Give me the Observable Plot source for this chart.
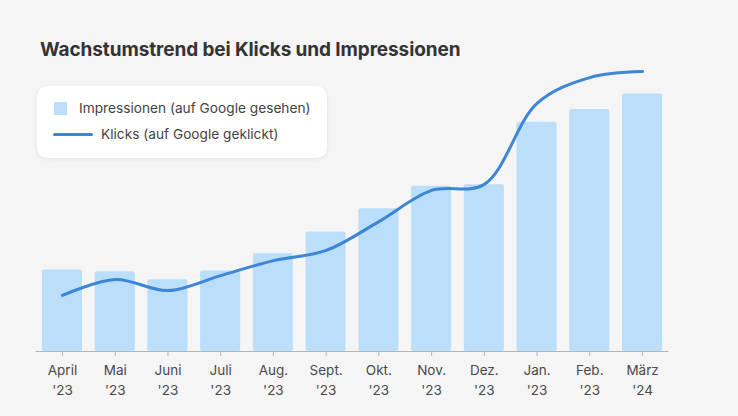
<!DOCTYPE html>
<html>
<head>
<meta charset="utf-8">
<script src="https://cdn.jsdelivr.net/npm/d3@7"></script>
<script src="https://cdn.jsdelivr.net/npm/@observablehq/plot@0.6"></script>
<style>
  html, body { margin: 0; padding: 0; background: #f5f5f5; }
  #wrap { position: relative; width: 738px; height: 416px; background: #f5f5f5; font-family: Inter, "Noto Sans", sans-serif; overflow: hidden; }
  #chart { position: absolute; left: 0; top: 0; }
  #title { position: absolute; left: 40px; top: 38px; font-size: 19px; font-weight: 700; color: #333; letter-spacing: -0.1px; white-space: nowrap; }
  #legend { position: absolute; left: 37px; top: 86px; width: 290px; height: 72px; background: #fff; border-radius: 10px; box-shadow: 0 1px 4px rgba(0,0,0,0.08); box-sizing: border-box; }
  .item { position: absolute; left: 16px; display: flex; align-items: center; font-size: 13.7px; color: #444; white-space: nowrap; }
  .sq { width: 13px; height: 13px; background: #bbdefa; margin-right: 12px; margin-left: 1px; }
  .ln { width: 40px; height: 3px; border-radius: 2px; background: #3d85d6; margin-right: 8px; }
</style>
</head>
<body>
<div id="wrap">
  <div id="chart"></div>
  <div id="title">Wachstumstrend bei Klicks und Impressionen</div>
  <div id="legend">
    <div class="item" style="top:14px"><div class="sq"></div><span>Impressionen (auf Google gesehen)</span></div>
    <div class="item" style="top:40px"><div class="ln"></div><span>Klicks (auf Google geklickt)</span></div>
  </div>
</div>
<script>
const months = ["April", "Mai", "Juni", "Juli", "Aug.", "Sept.", "Okt.", "Nov.", "Dez.", "Jan.", "Feb.", "März"];
const years = ["'23", "'23", "'23", "'23", "'23", "'23", "'23", "'23", "'23", "'23", "'23", "'24"];
const impressions = [27.2, 26.6, 23.9, 26.8, 32.6, 39.8, 47.6, 55.1, 55.6, 76.4, 80.7, 85.8];
const clicks = [18.7, 24.0, 20.3, 25.3, 30.3, 33.7, 43.3, 53.7, 55.7, 82.7, 91.3, 93.3];

const data = months.map((m, i) => ({month: m, impressions: impressions[i], clicks: clicks[i]}));

const chart = Plot.plot({
  width: 738,
  height: 416,
  marginLeft: 35.6,
  marginRight: 69.6,
  marginTop: 51,
  marginBottom: 65,
  style: {background: "transparent", fontFamily: "Inter, 'Noto Sans', sans-serif"},
  x: {domain: months, paddingInner: 0.24, paddingOuter: 0.12, round: false, label: null, axis: null},
  y: {domain: [0, 100], axis: null},
  marks: [
    Plot.barY(data, {x: "month", y: "impressions", fill: "#bbdefa", rx: 2}),
    Plot.ruleY([0], {stroke: "#b4b4b4", strokeWidth: 1}),
    Plot.line(data, {x: "month", y: "clicks", stroke: "#3d85d6", strokeWidth: 3, curve: "catmull-rom", strokeLinecap: "round"}),
    Plot.axisX({
      tickSize: 5,
      tickPadding: 5,
      stroke: "#b4b4b4",
      fill: "#4a4a4a",
      fontSize: 13.5,
      lineHeight: 1.44,
      tickFormat: d => d + "\n" + years[months.indexOf(d)],
      label: null
    })
  ]
});
document.getElementById("chart").appendChild(chart);
</script>
</body>
</html>
